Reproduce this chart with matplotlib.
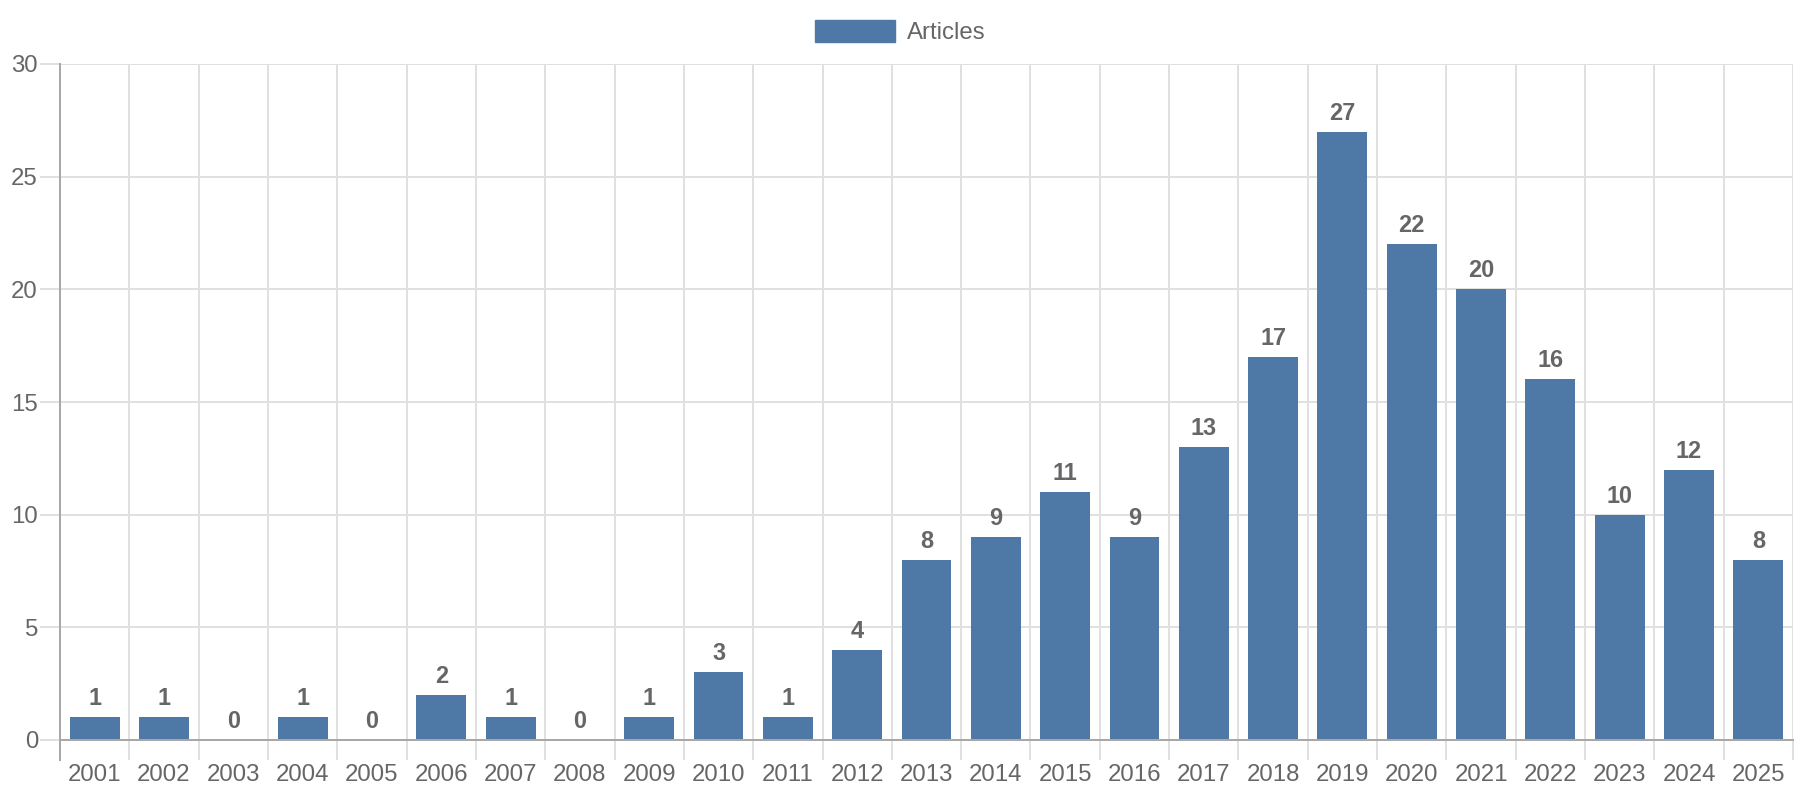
import matplotlib
matplotlib.use("Agg")
import matplotlib.pyplot as plt
from matplotlib.patches import Patch

years = [str(y) for y in range(2001, 2026)]
articles = [1, 1, 0, 1, 0, 2, 1, 0, 1, 3, 1, 4, 8, 9, 11, 9, 13, 17, 27, 22, 20, 16, 10, 12, 8]
yticks = [0, 5, 10, 15, 20, 25, 30]

bar_color = '#4e79a7'
text_color = '#666666'
grid_color = '#e0e0e0'
axis_color = '#a8a8a8'

plt.rcParams['font.family'] = ['Liberation Sans', 'DejaVu Sans']

W, H = 1800, 800
px = 72 / 100  # points per pixel at dpi 100

fig = plt.figure(figsize=(18, 8), dpi=100)
left, right, top, bottom = 60, 1793, 64, 740
ax = fig.add_axes([left / W, 1 - bottom / H, (right - left) / W, (bottom - top) / H])

x = list(range(len(years)))
ax.bar(x, articles, width=0.72, color=bar_color, zorder=3)

for xi, v in zip(x, articles):
    ax.annotate(str(v), (xi, v), xytext=(0, 12 * px), textcoords='offset points',
                ha='center', va='baseline', fontsize=23.5 * px, fontweight='bold',
                color=text_color, zorder=4)

ax.set_xlim(-0.5, len(years) - 0.5)
ax.set_ylim(0, 30)

# y axis
ax.set_yticks(yticks)
ax.tick_params(axis='y', length=20 * px, width=2 * px, color=grid_color,
               labelsize=24 * px, labelcolor=text_color, pad=2 * px)
ax.yaxis.grid(True, color=grid_color, linewidth=2 * px, zorder=0)

# x axis: labels at centres, grid on boundaries
ax.set_xticks(x)
ax.set_xticklabels(years)
ax.tick_params(axis='x', which='major', length=0, labelsize=24 * px,
               labelcolor=text_color, pad=24 * px)
ax.set_xticks([i - 0.5 for i in range(len(years) + 1)], minor=True)
ax.tick_params(axis='x', which='minor', length=20 * px, width=2 * px, color=grid_color)
ax.xaxis.grid(True, which='minor', color=grid_color, linewidth=2 * px, zorder=0)

for s in ['top', 'right', 'left']:
    ax.spines[s].set_visible(False)
ax.spines['bottom'].set_color(axis_color)
ax.spines['bottom'].set_linewidth(2 * px)
ax.spines['bottom'].set_zorder(5)

ax.axvline(-0.5, ymin=-20 / (bottom - top), ymax=1, color=axis_color,
           linewidth=2 * px, clip_on=False, zorder=5)

handle = Patch(facecolor=bar_color, edgecolor=bar_color)
fig.legend([handle], ['Articles'], loc='center', bbox_to_anchor=(0.5, 1 - 32 / H),
           frameon=False, fontsize=24 * px, labelcolor=text_color,
           handlelength=80 / 24, handleheight=1.0, handletextpad=0.5)

fig.savefig('out.png', dpi=100)
